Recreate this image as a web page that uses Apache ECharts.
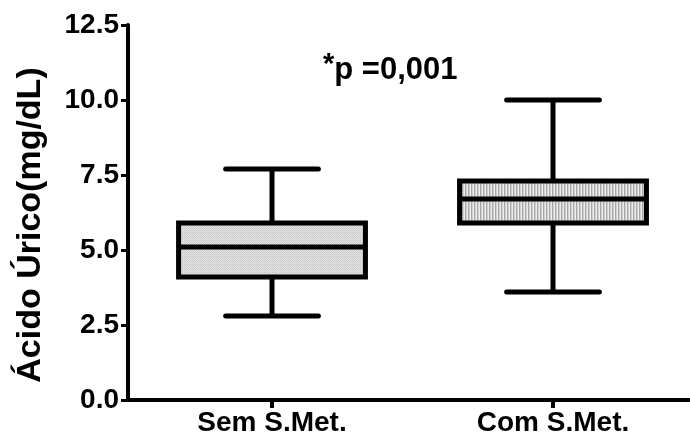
<!DOCTYPE html>
<html>
<head>
<meta charset="utf-8">
<script src="https://cdn.jsdelivr.net/npm/echarts@6/dist/echarts.min.js"></script>
<style>
  html, body { margin: 0; padding: 0; background: #fff; }
  #chart { width: 690px; height: 439px; }
</style>
</head>
<body>
<div id="chart"></div>
<script>
// Groups and five-number summaries: [min, Q1, median, Q3, max]
const categories = ['Sem S.Met.', 'Com S.Met.'];
const semMet = [2.8, 4.1, 5.1, 5.9, 7.7];
const comMet = [3.6, 5.9, 6.7, 7.3, 10.0];
const yTickValues = [0, 2.5, 5, 7.5, 10, 12.5];
const yTitle = 'Ácido Úrico(mg/dL)';
const annotation = 'p =0,001';

const FONT = '"Liberation Sans", Arial, sans-serif';

// Fill textures for the two boxes
function dotPattern() {
  const c = document.createElement('canvas');
  c.width = 2; c.height = 2;
  const g = c.getContext('2d');
  g.fillStyle = '#e4e4e4'; g.fillRect(0, 0, 2, 2);
  g.fillStyle = '#c4c4c4'; g.fillRect(0, 0, 1, 1);
  g.fillStyle = '#d2d2d2'; g.fillRect(1, 1, 1, 1);
  return c;
}
function stripePattern() {
  const c = document.createElement('canvas');
  c.width = 3; c.height = 3;
  const g = c.getContext('2d');
  g.fillStyle = '#ececec'; g.fillRect(0, 0, 3, 3);
  g.fillStyle = '#a8a8a8'; g.fillRect(0, 0, 1, 3);
  g.fillStyle = '#d0d0d0'; g.fillRect(1, 0, 1, 3);
  return c;
}
const fills = [
  { image: dotPattern(), repeat: 'repeat' },
  { image: stripePattern(), repeat: 'repeat' }
];

const groups = [semMet, comMet];
const boxData = groups.map((g, i) => [i + 1].concat(g));

const BOX_W = 0.665;   // box width in x units
const CAP_W = 0.33;    // whisker cap width in x units

function renderBox(params, api) {
  const x = api.value(0);
  const vMin = api.value(1), q1 = api.value(2), med = api.value(3),
        q3 = api.value(4), vMax = api.value(5);
  const half = api.size([BOX_W, 0])[0] / 2;
  const capHalf = api.size([CAP_W, 0])[0] / 2;
  const pMin = api.coord([x, vMin]);
  const pQ1 = api.coord([x, q1]);
  const pMed = api.coord([x, med]);
  const pQ3 = api.coord([x, q3]);
  const pMax = api.coord([x, vMax]);
  const cx = pMed[0];
  const lineStyle = { stroke: '#000', lineWidth: 5, lineCap: 'round' };
  const flat = { stroke: '#000', lineWidth: 5 };
  return {
    type: 'group',
    children: [
      { type: 'line', shape: { x1: cx, y1: pQ3[1], x2: cx, y2: pMax[1] }, style: flat },
      { type: 'line', shape: { x1: cx, y1: pQ1[1], x2: cx, y2: pMin[1] }, style: flat },
      { type: 'line', shape: { x1: cx - capHalf, y1: pMax[1], x2: cx + capHalf, y2: pMax[1] }, style: lineStyle },
      { type: 'line', shape: { x1: cx - capHalf, y1: pMin[1], x2: cx + capHalf, y2: pMin[1] }, style: lineStyle },
      {
        type: 'rect',
        shape: { x: cx - half, y: pQ3[1], width: half * 2, height: pQ1[1] - pQ3[1] },
        style: { fill: fills[params.dataIndex], stroke: '#000', lineWidth: 5 }
      },
      { type: 'line', shape: { x1: cx - half, y1: pMed[1], x2: cx + half, y2: pMed[1] }, style: flat }
    ]
  };
}

const chart = echarts.init(document.getElementById('chart'), null, { renderer: 'canvas' });
chart.setOption({
  animation: false,
  backgroundColor: '#fff',
  grid: { left: 128, right: 0, top: 25, bottom: 39, containLabel: false },
  xAxis: {
    type: 'value',
    min: 0.4875,
    max: 2.4875,
    splitLine: { show: false },
    axisLine: { lineStyle: { color: '#000', width: 4 } },
    axisTick: { show: true, customValues: [1, 2], length: 8, lineStyle: { color: '#000', width: 4 } },
    axisLabel: {
      customValues: [1, 2],
      formatter: v => categories[Math.round(v) - 1],
      color: '#000', fontFamily: FONT, fontWeight: 'bold', fontSize: 28, margin: 9
    }
  },
  yAxis: {
    type: 'value',
    min: 0,
    max: 12.5,
    interval: 2.5,
    splitLine: { show: false },
    axisLine: { lineStyle: { color: '#000', width: 4 } },
    axisTick: { show: true, length: 7, lineStyle: { color: '#000', width: 3 } },
    axisLabel: {
      customValues: yTickValues,
      formatter: v => v.toFixed(1),
      color: '#000', fontFamily: FONT, fontWeight: 'bold', fontSize: 28, margin: 9
    }
  },
  graphic: [{
    type: 'text',
    x: 31,
    y: 225,
    rotation: Math.PI / 2,
    style: {
      text: yTitle,
      fontFamily: FONT, fontWeight: 'bold', fontSize: 34, fill: '#000',
      align: 'center', verticalAlign: 'middle'
    }
  }, {
    type: 'text',
    left: 323,
    top: 50,
    style: {
      text: '{s|*}{t|' + annotation + '}',
      rich: {
        s: { fontFamily: FONT, fontWeight: 'bold', fontSize: 29, verticalAlign: 'top', padding: [0, 0, 12, 0], fill: '#000' },
        t: { fontFamily: FONT, fontWeight: 'bold', fontSize: 31, fill: '#000' }
      }
    }
  }],
  series: [{
    type: 'custom',
    renderItem: renderBox,
    data: boxData,
    encode: { x: 0, y: [1, 2, 3, 4, 5] },
    z: 3
  }]
});
</script>
</body>
</html>
